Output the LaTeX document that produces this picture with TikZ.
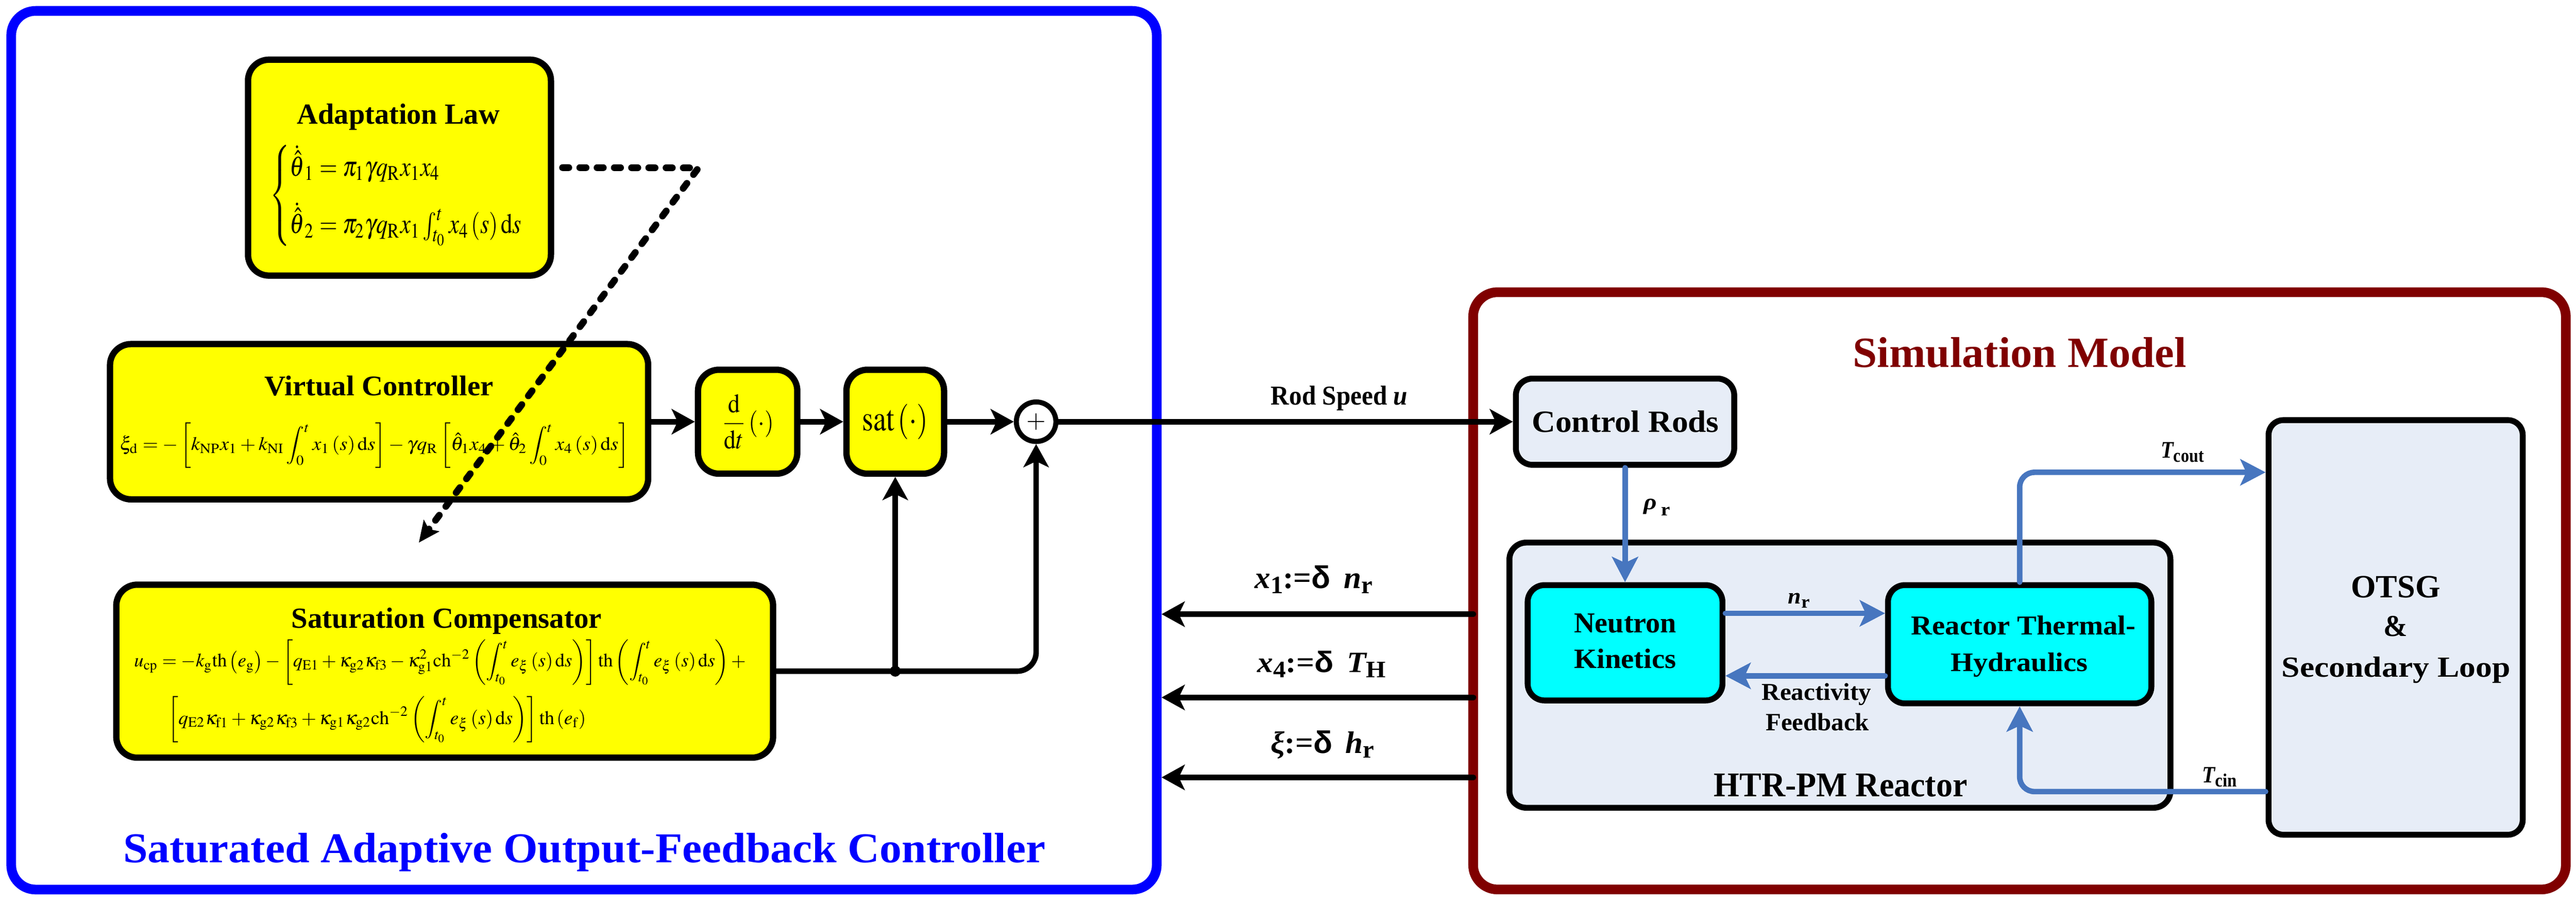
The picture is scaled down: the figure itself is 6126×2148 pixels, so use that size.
\documentclass[tikz,border=0pt]{standalone}
\usepackage{mathptmx}
\usepackage[no-math]{fontspec}
\setmainfont{Liberation Serif}
\newfontfamily\lsans{Liberation Sans}
\usepackage{graphicx}
\usetikzlibrary{arrows.meta}
\definecolor{cyel}{RGB}{255,255,0}
\definecolor{ccyan}{RGB}{0,255,255}
\definecolor{clight}{RGB}{231,237,247}
\definecolor{cblue}{RGB}{0,0,255}
\definecolor{cmaroon}{RGB}{128,0,0}
\definecolor{cconn}{RGB}{71,118,191}
\newcommand{\fitb}[3]{\resizebox{#1cm}{#2cm}{#3}}
\newcommand{\fitt}[3]{\resizebox*{#1cm}{#2cm}{#3}}
\tikzset{
  ybox/.style={draw=black, line width=0.15cm, fill=cyel, rounded corners=0.5cm, inner sep=0},
  lbox/.style={draw=black, line width=0.14cm, fill=clight, rounded corners=0.4cm, inner sep=0},
  cbox/.style={draw=black, line width=0.14cm, fill=ccyan, rounded corners=0.4cm, inner sep=0},
  frame/.style={line width=0.23cm, rounded corners=0.58cm, inner sep=0},
  lbl/.style={inner sep=0, outer sep=0},
  conn/.style={line width=0.13cm, line cap=round, -{Stealth[length=0.55cm,width=0.6cm,inset=0.14cm]}},
  bconn/.style={draw=cconn, line width=0.13cm, line cap=round, -{Stealth[length=0.6cm,width=0.62cm,inset=0.14cm]}},
}
\begin{document}
\begin{tikzpicture}[x=0.01cm,y=-0.01cm]
\useasboundingbox (0,0) rectangle (6126,2148);
\fill[white] (0,0) rectangle (6126,2148);
% frames
\node[frame, draw=cblue, minimum width=27.225cm, minimum height=20.875cm] (blueframe) at (1388.75,1070.25) {};
\node[frame, draw=cmaroon, minimum width=25.97cm, minimum height=14.19cm] (redframe) at (4802.5,1404.5) {};
\node[lbl, anchor=base, text=cblue] (bluetitle) at (1390,2050) {\fitb{21.92}{0.70}{\bfseries Saturated Adaptive Output-Feedback Controller}};
\node[lbl, anchor=base, text=cmaroon] (redtitle) at (4803,873) {\fitb{7.92}{0.71}{\bfseries Simulation Model}};
% controller blocks
\node[ybox, minimum width=7.20cm, minimum height=5.13cm] (al) at (950,398.5) {};
\node[lbl, anchor=base] (altitle) at (947.5,295) {\fitb{4.81}{0.48}{\bfseries Adaptation Law}};
\node[lbl, anchor=west] (aleq) at (641,465) {\fitt{6.05}{2.40}{$\displaystyle\left\{\begin{array}{@{}l@{}}\dot{\hat{\theta}}_1=\pi_1\gamma q_{\mathrm R}x_1x_4\\[6pt]\dot{\hat{\theta}}_2=\pi_2\gamma q_{\mathrm R}x_1\int_{t_0}^{t}x_4\left(s\right)\mathrm{d}s\end{array}\right.$}};
\node[ybox, minimum width=12.79cm, minimum height=3.69cm] (vc) at (901.5,1002.5) {};
\node[lbl, anchor=base] (vctitle) at (901,940) {\fitb{5.44}{0.47}{\bfseries Virtual Controller}};
\node[lbl, anchor=west] (vceq) at (285,1059) {\fitt{12.10}{1.08}{$\displaystyle \xi_{\mathrm d}=-\left[k_{\mathrm{NP}}x_1+k_{\mathrm{NI}}\int_0^t x_1\left(s\right)\mathrm{d}s\right]-\gamma q_{\mathrm R}\left[\hat\theta_1x_4+\hat\theta_2\int_0^t x_4\left(s\right)\mathrm{d}s\right]$}};
\node[ybox, minimum width=15.61cm, minimum height=4.11cm] (sc) at (1057.5,1595.5) {};
\node[lbl, anchor=base] (sctitle) at (1062,1493) {\fitb{7.38}{0.48}{\bfseries Saturation Compensator}};
\node[lbl, anchor=west] (sceqa) at (319,1574) {\fitt{14.54}{1.08}{$\displaystyle u_{\mathrm{cp}}=-k_{\mathrm g}\mathrm{th}\left(e_{\mathrm g}\right)-\left[q_{\mathrm{E1}}+\kappa_{\mathrm{g2}}\kappa_{\mathrm{f3}}-\kappa_{\mathrm{g1}}^2\mathrm{ch}^{-2}\left(\int_{t_0}^t e_\xi\left(s\right)\mathrm{d}s\right)\right]\mathrm{th}\left(\int_{t_0}^t e_\xi\left(s\right)\mathrm{d}s\right)+$}};
\node[lbl, anchor=west] (sceqb) at (400,1710) {\fitt{9.93}{1.10}{$\displaystyle\left[q_{\mathrm{E2}}\kappa_{\mathrm{f1}}+\kappa_{\mathrm{g2}}\kappa_{\mathrm{f3}}+\kappa_{\mathrm{g1}}\kappa_{\mathrm{g2}}\mathrm{ch}^{-2}\left(\int_{t_0}^t e_\xi\left(s\right)\mathrm{d}s\right)\right]\mathrm{th}\left(e_{\mathrm f}\right)$}};
\node[ybox, minimum width=2.36cm, minimum height=2.47cm] (ddt) at (1778,1002.5) {\fitt{1.25}{1.30}{$\displaystyle\frac{\mathrm d}{\mathrm{d}t}\left(\cdot\right)$}};
\node[ybox, minimum width=2.32cm, minimum height=2.47cm] (sat) at (2129,1002.5) {\fitt{1.57}{0.84}{$\mathrm{sat}\left(\cdot\right)$}};
\node[circle, draw=black, fill=white, line width=0.12cm, minimum size=0.94cm, inner sep=0] (sum) at (2464,1002.5) {\resizebox{0.46cm}{!}{$+$}};
% simulation model blocks
\node[lbox, minimum width=5.19cm, minimum height=2.05cm] (rods) at (3864.5,1002.5) {};
\node[lbl, anchor=base] (rodstext) at (3865.5,1027) {\fitb{4.45}{0.51}{\bfseries Control Rods}};
\node[lbox, minimum width=15.71cm, minimum height=6.30cm] (htr) at (4375.5,1605) {};
\node[lbl, anchor=base] (htrtext) at (4377,1893) {\fitb{6.02}{0.54}{\bfseries HTR-PM Reactor}};
\node[cbox, minimum width=4.63cm, minimum height=2.74cm] (nk) at (3864.5,1528) {};
\node[lbl, anchor=base] (nktexta) at (3865,1504) {\fitb{2.43}{0.45}{\bfseries Neutron}};
\node[lbl, anchor=base] (nktextb) at (3865,1589) {\fitb{2.43}{0.46}{\bfseries Kinetics}};
\node[cbox, minimum width=6.26cm, minimum height=2.81cm] (rth) at (4803,1531.5) {};
\node[lbl, anchor=base] (rthtexta) at (4812,1509) {\fitb{5.33}{0.45}{\bfseries Reactor Thermal-}};
\node[lbl, anchor=base] (rthtextb) at (4802,1596) {\fitb{3.25}{0.44}{\bfseries Hydraulics}};
\node[lbox, rounded corners=0.35cm, minimum width=6.04cm, minimum height=9.85cm] (otsg) at (5697,1491.5) {};
\node[lbl, anchor=base] (otsga) at (5697,1421) {\fitb{2.12}{0.51}{\bfseries OTSG}};
\node[lbl, anchor=base] (otsgb) at (5697,1513) {\fitb{0.57}{0.48}{\bfseries \&}};
\node[lbl, anchor=base] (otsgc) at (5698,1609) {\fitb{5.43}{0.48}{\bfseries Secondary Loop}};
% controller connectors
\draw[conn] (vc) -- (ddt);
\draw[conn] (ddt) -- (sat);
\draw[conn] (sat) -- (sum);
\coordinate (jn) at (sat.south |- sc.east);
\draw[conn, rounded corners=0.45cm] (sc.east) -- (sum.south |- sc.east) -- (sum.south);
\draw[conn] (jn) -- (sat.south);
\fill (jn) circle (0.13cm);
\draw[conn] (sum) -- (rods);
\node[lbl, anchor=base] (rodspeed) at (3185,962) {\fitb{3.25}{0.45}{\bfseries Rod Speed \textit{u}}};
% feedback signals
\coordinate (fba) at (3504,1460);
\coordinate (fbb) at (3504,1658);
\coordinate (fbc) at (3504,1848);
\draw[conn] (fba) -- (blueframe.east |- fba);
\draw[conn] (fbb) -- (blueframe.east |- fbb);
\draw[conn] (fbc) -- (blueframe.east |- fbc);
\node[lbl] (fbalbl) at (3124,1378) {\fitt{2.80}{0.66}{{\bfseries\itshape x}\raisebox{-0.35ex}{\footnotesize\bfseries 1}\textbf{:=}{\lsans\bfseries δ}\ \,{\bfseries\itshape n}\raisebox{-0.35ex}{\footnotesize\bfseries r}}};
\node[lbl] (fbblbl) at (3143,1579) {\fitt{3.06}{0.62}{{\bfseries\itshape x}\raisebox{-0.35ex}{\footnotesize\bfseries 4}\textbf{:=}{\lsans\bfseries δ}\ \,{\bfseries\itshape T}\raisebox{-0.35ex}{\footnotesize\bfseries H}}};
\node[lbl] (fbclbl) at (3145,1770) {\fitt{2.46}{0.67}{{\bfseries\itshape ξ}\textbf{:=}{\lsans\bfseries δ}\ \,{\bfseries\itshape h}\raisebox{-0.35ex}{\footnotesize\bfseries r}}};
% plant connectors
\draw[bconn] (rods.south) -- (nk.north);
\node[lbl] (rholbl) at (3940,1206) {\fitt{0.63}{0.40}{{\bfseries\itshape ρ}\,\raisebox{-0.6ex}{\footnotesize\bfseries r}}};
\draw[bconn] ([yshift=0.70cm]nk.east) -- ([yshift=0.70cm]nk.east -| rth.west);
\node[lbl] (nrlbl) at (4278,1428) {\fitt{0.51}{0.35}{{\bfseries\itshape n}\raisebox{-0.4ex}{\footnotesize\bfseries r}}};
\draw[bconn] ([yshift=-0.75cm]rth.west) -- ([yshift=-0.75cm]rth.west -| nk.east);
\node[lbl, anchor=base] (rfa) at (4320,1665) {\fitb{2.60}{0.40}{\bfseries Reactivity}};
\node[lbl, anchor=base] (rfb) at (4322,1737) {\fitb{2.46}{0.41}{\bfseries Feedback}};
\coordinate (tcoend) at ([yshift=3.685cm]otsg.west);
\draw[bconn, rounded corners=0.35cm] (rth.north) -- (rth.north |- tcoend) -- (tcoend);
\node[lbl] (tcolbl) at (5190,1075) {\fitt{1.02}{0.48}{{\bfseries\itshape T}\raisebox{-0.4ex}{\footnotesize\bfseries cout}}};
\coordinate (tcistart) at ([yshift=-3.90cm]otsg.west);
\draw[bconn, rounded corners=0.35cm] (tcistart) -- (tcistart -| rth.south) -- (rth.south);
\node[lbl] (tcilbl) at (5278,1847) {\fitt{0.82}{0.47}{{\bfseries\itshape T}\raisebox{-0.4ex}{\footnotesize\bfseries cin}}};
% dashed adaptation link
\coordinate (dstart) at ([xshift=0.2cm]al.east);
\coordinate (dturn) at (1661,399);
\coordinate (dend) at (996,1290);
\draw[line width=0.16cm, dash pattern=on 0.15cm off 0.26cm, line cap=round, -{Stealth[length=0.5cm,width=0.45cm,inset=0.1cm]}] (dstart) -- (dturn) -- (dend);
\end{tikzpicture}
\end{document}
